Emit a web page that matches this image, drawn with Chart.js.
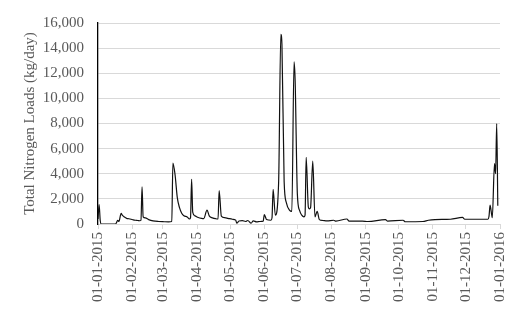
<!DOCTYPE html>
<html>
<head>
<meta charset="utf-8">
<script src="https://cdn.jsdelivr.net/npm/chart.js@4/dist/chart.umd.min.js"></script>
<style>
  html, body { margin: 0; padding: 0; background: #fff; }
</style>
</head>
<body>
<canvas id="loadChart" width="521" height="318"></canvas>
<script>
// day of year (0 = 01-01-2015) and daily total nitrogen load
const days = [0, 1, 2, 3, 10, 16, 17, 18, 19, 21, 22, 24, 26, 28, 30, 32, 34, 36, 38, 39,
  40, 41, 43, 46, 50, 55, 60, 64, 67, 68, 70, 72, 74, 76, 78, 81, 83, 84, 85, 86,
  88, 91, 94, 96, 99, 101, 104, 107, 109, 110, 112, 115, 118, 122, 125, 126, 128, 131, 134, 136,
  139, 141, 144, 147, 150, 151, 153, 157, 158, 159, 161, 164, 166, 167, 169, 171, 174, 176, 178, 179,
  181, 183, 185, 187, 188, 189, 191, 192, 193, 195, 197, 199, 201, 204, 208, 214, 216, 226, 228, 240,
  245, 261, 263, 277, 279, 295, 300, 306, 320, 331, 333, 354, 355, 356, 358, 360, 361, 362, 363];
const loads = [400, 1550, 300, 0, 0, 0, 150, 300, 200, 850, 700, 550, 450, 420, 380, 330, 300, 280, 260, 300,
  2950, 560, 480, 350, 250, 200, 180, 170, 200, 4850, 3900, 2100, 1300, 850, 650, 560, 400, 500, 3550, 950,
  650, 520, 450, 430, 1100, 650, 490, 420, 400, 2650, 620, 500, 450, 380, 310, 60, 240, 270, 200, 280,
  60, 250, 170, 200, 230, 750, 360, 300, 500, 2750, 700, 3300, 15100, 14300, 3400, 1700, 1080, 1000, 12900, 11400,
  2400, 1080, 700, 560, 700, 5300, 1340, 1200, 1300, 5000, 560, 1000, 350, 280, 250, 300, 230, 400, 230, 230,
  200, 350, 230, 300, 180, 200, 300, 350, 380, 520, 380, 380, 600, 1500, 500, 4800, 4000, 8000, 1450];

const monthDays = [0, 31, 59, 90, 120, 151, 181, 212, 243, 273, 304, 334, 365];
const monthLabels = ['01-01-2015', '01-02-2015', '01-03-2015', '01-04-2015', '01-05-2015', '01-06-2015',
  '01-07-2015', '01-08-2015', '01-09-2015', '01-10-2015', '01-11-2015', '01-12-2015', '01-01-2016'];

const yTicks = [0, 2000, 4000, 6000, 8000, 10000, 12000, 14000, 16000];

const serif = { family: '"Liberation Serif", "DejaVu Serif", serif', size: 15 };
const textGrey = '#595959';
const gridGrey = '#d9d9d9';

const points = days.map((d, i) => ({ x: d, y: loads[i] }));

new Chart(document.getElementById('loadChart'), {
  type: 'line',
  data: {
    datasets: [{
      data: points,
      borderColor: '#111',
      borderWidth: 1.2,
      pointRadius: 0,
      cubicInterpolationMode: 'monotone',
      fill: false
    }]
  },
  options: {
    responsive: false,
    animation: false,
    devicePixelRatio: 1,
    layout: { padding: { top: 17, right: 17, left: 0, bottom: 0 } },
    plugins: { legend: { display: false }, tooltip: { enabled: false } },
    scales: {
      x: {
        type: 'linear',
        min: 0,
        max: 365,
        afterBuildTicks: (scale) => { scale.ticks = monthDays.map(v => ({ value: v })); },
        afterFit: (scale) => { scale.height = 94; },
        grid: { drawOnChartArea: false, drawTicks: true, tickLength: 5, color: gridGrey },
        border: { color: gridGrey, width: 1 },
        ticks: {
          autoSkip: false,
          minRotation: 90,
          maxRotation: 90,
          padding: 3,
          font: serif,
          color: textGrey,
          callback: (v) => {
            const i = monthDays.indexOf(v);
            return i >= 0 ? monthLabels[i] : '';
          }
        }
      },
      y: {
        min: 0,
        max: 16000,
        afterBuildTicks: (scale) => { scale.ticks = yTicks.map(v => ({ value: v })); },
        afterFit: (scale) => { scale.width = 98; },
        grid: { color: gridGrey, drawTicks: false },
        border: { color: '#000', width: 1.3 },
        ticks: {
          padding: 14,
          font: serif,
          color: textGrey,
          callback: (v) => v.toLocaleString('en-US')
        },
        title: {
          display: true,
          text: 'Total Nitrogen Loads (kg/day)',
          font: serif,
          color: textGrey,
          padding: { top: 21, bottom: 0 }
        }
      }
    }
  }
});
</script>
</body>
</html>
